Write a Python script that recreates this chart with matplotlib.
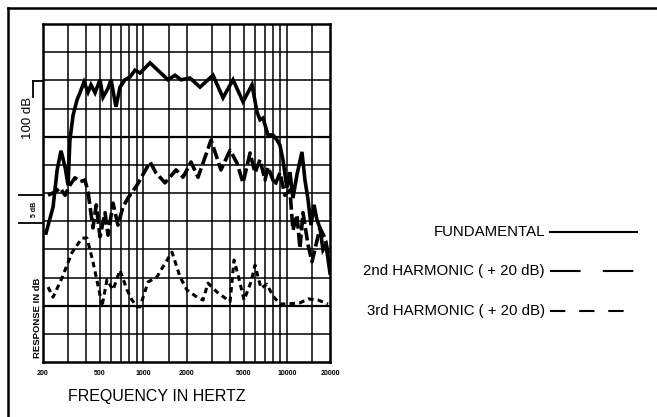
import matplotlib.pyplot as plt
from matplotlib.lines import Line2D

plt.rcParams["font.family"] = ["Liberation Sans", "DejaVu Sans"]
plt.rcParams["lines.scale_dashes"] = False

# Kurven (Frequenz in Hz, Pegel in dB)
fund_freq = [210, 235, 251, 267, 285, 299, 308, 324, 345, 362, 386, 412, 432, 461,
             499, 524, 568, 596, 645, 688, 745, 808, 875, 949, 1114, 1486, 1663,
             1832, 2115, 2484, 3061, 3592, 4220, 4955, 5723, 6198, 6503, 6824,
             7395, 8011, 8539, 8960, 9400, 10020, 10516, 11034, 11763, 12754,
             13384, 14058, 14750, 15470, 16230, 17026, 17869, 18750, 20000]
fund_db = [72.9, 77.5, 84.1, 87.5, 84.6, 81.4, 89.4, 93.8, 96.5, 97.8, 99.7, 97.9,
           99.2, 97.8, 100.1, 97.0, 98.6, 100.1, 95.3, 98.8, 100.1, 100.6, 101.8,
           101.3, 103.1, 100.1, 100.9, 100.1, 100.4, 98.8, 100.9, 96.9, 100.1,
           96.2, 99.2, 94.4, 93.0, 93.3, 90.3, 90.3, 89.4, 88.5, 85.9, 80.9, 83.7,
           79.1, 83.2, 87.3, 82.3, 78.8, 74.3, 77.9, 75.2, 73.8, 69.9, 70.8, 65.8]

h2_freq = [217, 243, 263, 285, 308, 334, 362, 392, 412, 446, 470, 499, 541, 568,
           615, 666, 721, 782, 904, 1114, 1225, 1416, 1690, 1892, 2149, 2405,
           2965, 3477, 4022, 4499, 4955, 5545, 6003, 6503, 7048, 7395, 8271, 8960,
           9705, 10516, 11034, 11763, 12353, 12961, 14058, 14985, 15974, 17026,
           18450, 20000]
h2_db = [79.6, 80.2, 80.9, 79.6, 81.4, 82.7, 82.0, 82.3, 80.2, 73.8, 77.9, 72.2,
         76.5, 72.5, 78.2, 74.3, 77.5, 79.1, 81.4, 85.5, 83.6, 81.8, 84.1, 82.8,
         85.5, 82.8, 89.4, 84.1, 87.6, 85.3, 81.8, 87.1, 83.6, 85.9, 82.3, 84.6,
         81.4, 83.6, 79.6, 80.5, 73.4, 76.1, 70.2, 76.5, 70.8, 67.8, 70.8, 73.8,
         72.0, 67.8]

h3_freq = [217, 235, 271, 318, 374, 405, 446, 499, 515, 558, 615, 688, 770, 834,
           904, 949, 1079, 1245, 1371, 1585, 1803, 2014, 2367, 2606, 2825, 3267,
           4022, 4290, 4610, 5035, 5630, 6003, 6610, 7277, 8011, 8960, 10020,
           12353, 14058, 16490, 19360]
h3_db = [63.3, 61.5, 64.9, 69.4, 72.0, 72.0, 67.8, 61.9, 59.8, 64.6, 62.8, 66.3,
         62.8, 61.0, 59.8, 59.8, 64.2, 65.1, 66.9, 69.5, 65.1, 62.8, 61.5, 61.0,
         64.0, 62.4, 60.7, 68.1, 65.1, 61.0, 64.2, 67.2, 63.1, 63.8, 61.7, 60.3,
         60.3, 60.5, 61.2, 61.0, 60.3]

# Rasterpapier
grid_freqs = [300, 400, 500, 600, 700, 800, 900, 1000, 1500, 2000, 3000, 4000,
              5000, 6000, 7000, 8000, 9000, 10000, 15000]
grid_db = [55, 60, 65, 70, 75, 80, 85, 90, 95, 100, 105]
tick_freqs = [200, 500, 1000, 2000, 5000, 10000, 20000]
tick_labels = ["200", "500", "1000", "2000", "5000", "10000", "20000"]

W, H = 657, 417
fig = plt.figure(figsize=(W / 100, H / 100), dpi=100)
ax = fig.add_axes([43 / W, 1 - 362 / H, 287 / W, 338 / H])

for f in grid_freqs:
    ax.axvline(f, color="black", lw=1.1, zorder=1)
for d in grid_db:
    lw = 1.6 if d in (60, 90) else 1.1
    ax.axhline(d, color="black", lw=lw, zorder=1)

ax.plot(fund_freq, fund_db, color="black", lw=2.6, solid_joinstyle="miter", zorder=3)
ax.plot(h2_freq, h2_db, color="black", lw=2.6, dashes=(9, 3), zorder=3)
ax.plot(h3_freq, h3_db, color="black", lw=2.2, dashes=(4, 3), zorder=3)

ax.set_xscale("log")
ax.set_xlim(200, 20000)
ax.set_ylim(50, 110)
ax.set_xticks(tick_freqs)
ax.set_xticklabels(tick_labels, fontsize=5, fontweight="bold")
ax.minorticks_off()
ax.tick_params(axis="x", length=0, pad=6)
ax.set_yticks([])
for s in ax.spines.values():
    s.set_linewidth(1.8)

# Achsbeschriftungen
fig.text(157 / W, 1 - 396 / H, "FREQUENCY IN HERTZ", ha="center", va="center",
         fontsize=11.5)
fig.text(37 / W, 1 - 318 / H, "RESPONSE IN dB", rotation=90, ha="center",
         va="center", fontsize=6.8, fontweight="bold")
fig.text(34 / W, 1 - 209 / H, "5 dB", rotation=90, ha="center", va="center",
         fontsize=5, fontweight="bold")
fig.text(28 / W, 1 - 118 / H, "100 dB", rotation=90, ha="center", va="center",
         fontsize=9.5)

def fig_line(xs, ys, lw=1.3, **kw):
    fig.add_artist(Line2D([x / W for x in xs], [1 - y / H for y in ys],
                          color="black", lw=lw, **kw))

fig_line([33, 43], [81, 81])
fig_line([33, 33], [81, 97])
fig_line([19, 43], [195, 195])
fig_line([19, 43], [223, 223])

# Rahmen
fig_line([8, 657], [8, 8], lw=1.8)
fig_line([8, 8], [8, 417], lw=1.8)

# Legende
legend_rows = [("FUNDAMENTAL", 232, None),
               ("2nd HARMONIC ( + 20 dB)", 271, (22, 16)),
               ("3rd HARMONIC ( + 20 dB)", 311, (11, 10))]
for label, y, dash in legend_rows:
    fig.text(545 / W, 1 - y / H, label, ha="right", va="center", fontsize=10.8)
    if dash is None:
        fig_line([550, 637], [y, y], lw=1.5)
    else:
        fig_line([550, 637], [y, y], lw=1.5, dashes=dash)

fig.savefig("out.png", dpi=100)
